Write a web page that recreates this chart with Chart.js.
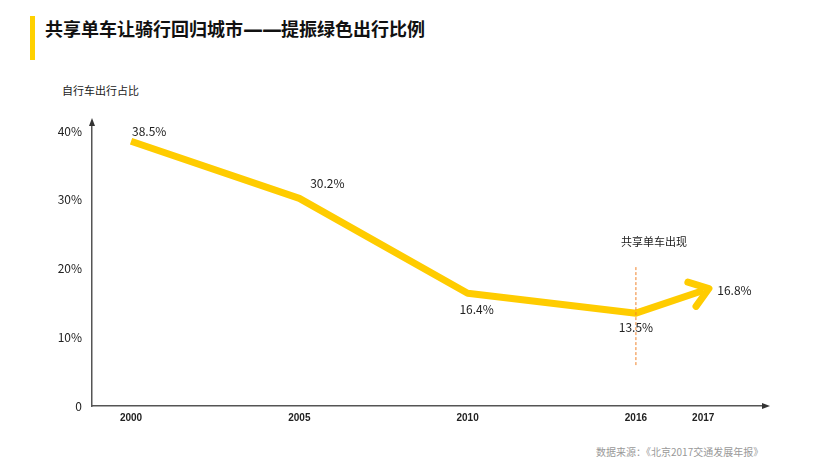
<!DOCTYPE html>
<html>
<head>
<meta charset="utf-8">
<script src="https://cdn.jsdelivr.net/npm/chart.js@4.4.0/dist/chart.umd.min.js"></script>
<style>
  html, body { margin: 0; padding: 0; background: #fff; }
  #wrap { position: relative; width: 816px; height: 473px; font-family: "Noto Sans CJK SC", sans-serif; }
  #bar { position: absolute; left: 30px; top: 16px; width: 5px; height: 44px; background: #FFD100; }
  #title { position: absolute; left: 45px; top: 15px; font-size: 18px; font-weight: bold; color: #111; line-height: 26px; white-space: nowrap; }
  #title .dash { font-family: "DejaVu Sans"; font-size: 20px; letter-spacing: -1px; }
  #ytitle { position: absolute; left: 62px; top: 82px; font-size: 11px; color: #222; white-space: nowrap; }
  #source { position: absolute; left: 596px; top: 444px; font-size: 10px; color: #999; white-space: nowrap; }
  canvas { position: absolute; left: 0; top: 0; }
</style>
</head>
<body>
<div id="wrap">
  <div id="bar"></div>
  <div id="title">共享单车让骑行回归城市<span class="dash">——</span>提振绿色出行比例</div>
  <div id="ytitle">自行车出行占比</div>
  <div id="source">数据来源：《北京2017交通发展年报》</div>
  <canvas id="chart" width="816" height="473"></canvas>
</div>
<script>
// years and where they sit on the (uneven) original axis
var years = ['2000', '2005', '2010', '2016', '2017'];
var slot = [0, 1, 2, 3, 3.4];
var share = [38.5, 30.2, 16.4, 13.5, 16.8];
var yTicks = [0, 10, 20, 30, 40];
var eventLabel = '共享单车出现';
var eventSlot = 3;

// label placement: [dx, dy, align]
var labelPos = [[1, -10, 'left'], [28, -15, 'center'], [9, 16, 'center'], [0, 14, 'center'], [14, 0, 'left']];

var points = [];
for (var i in share) {
  points.push({x: slot[i], y: share[i]});
}

function arrowHead(ctx, x, y, ang, len, spread) {
  ctx.beginPath();
  ctx.moveTo(x - len * Math.cos(ang - spread), y - len * Math.sin(ang - spread));
  ctx.lineTo(x, y);
  ctx.lineTo(x - len * Math.cos(ang + spread), y - len * Math.sin(ang + spread));
  ctx.stroke();
}

var extras = {
  id: 'extras',
  afterDatasetsDraw: function(chart) {
    var ctx = chart.ctx;
    var xs = chart.scales.x, ys = chart.scales.y;
    var area = chart.chartArea;
    ctx.save();

    // axis arrows
    ctx.fillStyle = '#333';
    ctx.beginPath();
    ctx.moveTo(area.left, area.top - 4);
    ctx.lineTo(area.left - 3, area.top + 4);
    ctx.lineTo(area.left + 3, area.top + 4);
    ctx.fill();
    ctx.beginPath();
    ctx.moveTo(area.right + 4, area.bottom);
    ctx.lineTo(area.right - 4, area.bottom - 3);
    ctx.lineTo(area.right - 4, area.bottom + 3);
    ctx.fill();

    // event marker
    var ex = xs.getPixelForValue(eventSlot);
    ctx.strokeStyle = '#F0832A';
    ctx.lineWidth = 1;
    ctx.setLineDash([3, 2]);
    ctx.beginPath();
    ctx.moveTo(ex, ys.getPixelForValue(20.2));
    ctx.lineTo(ex, ys.getPixelForValue(5.8));
    ctx.stroke();
    ctx.setLineDash([]);
    ctx.fillStyle = '#222';
    ctx.font = '11px "Noto Sans CJK SC"';
    ctx.textAlign = 'center';
    ctx.textBaseline = 'middle';
    ctx.fillText(eventLabel, ex + 18, ys.getPixelForValue(23.9));

    // arrow head on the line end
    var meta = chart.getDatasetMeta(0).data;
    var a = meta[meta.length - 2], b = meta[meta.length - 1];
    var ang = Math.atan2(b.y - a.y, b.x - a.x);
    var tx = b.x + 6 * Math.cos(ang), ty = b.y + 6 * Math.sin(ang);
    ctx.strokeStyle = '#FFCC00';
    ctx.lineWidth = 7;
    ctx.lineCap = 'round';
    ctx.lineJoin = 'round';
    arrowHead(ctx, tx, ty, ang, 22, 0.62);

    // value labels
    ctx.fillStyle = '#222';
    ctx.font = '12px "Noto Sans CJK SC"';
    for (var i = 0; i < meta.length; i++) {
      ctx.textAlign = labelPos[i][2];
      ctx.fillText(share[i].toFixed(1) + '%', meta[i].x + labelPos[i][0], meta[i].y + labelPos[i][1]);
    }
    ctx.restore();
  }
};

var ctx = document.getElementById('chart');
var chart = new Chart(ctx, {
  type: 'line',
  data: {
    datasets: [{
      data: points,
      borderColor: '#FFCC00',
      borderWidth: 7,
      pointRadius: 0,
      tension: 0,
      borderJoinStyle: 'round'
    }]
  },
  options: {
    responsive: false,
    animation: false,
    layout: { padding: { left: 0, right: 50, top: 122, bottom: 0 } },
    plugins: { legend: { display: false }, tooltip: { enabled: false } },
    scales: {
      x: {
        type: 'linear',
        min: -0.232,
        max: 3.773,
        afterFit: function(scale) { scale.height = 67; },
        afterBuildTicks: function(scale) {
          scale.ticks = slot.map(function(v) { return {value: v}; });
        },
        ticks: {
          padding: 6,
          color: '#222',
          font: { family: 'Liberation Sans', size: 10, weight: 'bold' },
          maxRotation: 0,
          autoSkip: false,
          callback: function(v, idx) { return years[idx]; }
        },
        grid: { display: false, drawTicks: false },
        border: { display: true, color: '#555', width: 1.5 }
      },
      y: {
        min: 0,
        max: 41.3,
        afterFit: function(scale) { scale.width = 92; },
        afterBuildTicks: function(scale) {
          scale.ticks = yTicks.map(function(v) { return {value: v}; });
        },
        ticks: {
          padding: 10,
          color: '#222',
          font: { family: 'Noto Sans CJK SC', size: 12 },
          callback: function(v) { return v === 0 ? '0' : v + '%'; }
        },
        grid: { display: false, drawTicks: false },
        border: { display: true, color: '#555', width: 1.5 }
      }
    }
  },
  plugins: [extras]
});
</script>
</body>
</html>
